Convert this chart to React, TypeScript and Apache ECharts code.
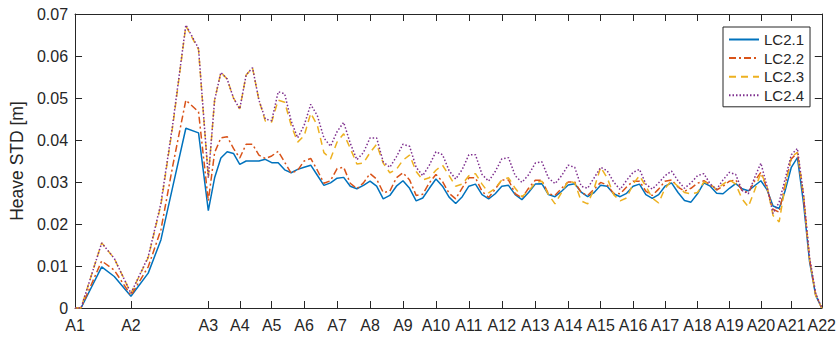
import React, { useEffect, useRef } from "react";
import * as echarts from "echarts";

// Station labels along the route and their chainage positions
const stationNames = [
  "A1", "A2", "A3", "A4", "A5", "A6", "A7", "A8", "A9", "A10", "A11",
  "A12", "A13", "A14", "A15", "A16", "A17", "A18", "A19", "A20", "A21", "A22",
];
const stationPos = [
  0, 56, 133.5, 165, 197, 229.5, 262.5, 295.5, 328.5, 361.5, 394.5,
  427.5, 461, 494, 526.5, 559, 591, 623.5, 655.5, 687, 717.5, 748,
];

// Chainage of every sample
const chainage = [
  0, 6, 26.7, 39.3, 56, 73.3, 86, 98, 111, 123.7,
  133.5, 139.8, 146.1, 152.4, 158.7,
  165, 171.4, 177.8, 184.2, 190.6,
  197, 203.5, 210, 216.5, 223,
  229.5, 236.1, 242.7, 249.3, 255.9,
  262.5, 269.1, 275.7, 282.3, 288.9,
  295.5, 302.1, 308.7, 315.3, 321.9,
  328.5, 335.1, 341.7, 348.3, 354.9,
  361.5, 368.1, 374.7, 381.3, 387.9,
  394.5, 401.1, 407.7, 414.3, 420.9,
  427.5, 434.2, 440.9, 447.6, 454.3,
  461, 467.6, 474.2, 480.8, 487.4,
  494, 500.5, 507, 513.5, 520,
  526.5, 533, 539.5, 546, 552.5,
  559, 565.4, 571.8, 578.2, 584.6,
  591, 597.5, 604, 610.5, 617,
  623.5, 629.9, 636.3, 642.7, 649.1,
  655.5, 661.8, 668.1, 674.4, 680.7,
  687, 693.1, 699.2, 705.3, 711.4,
  717.5, 723.6, 729.7, 735.8, 741.9, 748,
];

// Heave standard deviation [m] per load case
const lc21 = [
  0, 0, 0.0098, 0.0075, 0.0028, 0.0083, 0.0162, 0.029, 0.0428, 0.0417,
  0.0232, 0.031, 0.0357, 0.0372, 0.0368,
  0.0342, 0.035, 0.035, 0.035, 0.0354,
  0.0346, 0.0346, 0.0329, 0.0322, 0.033,
  0.0335, 0.034, 0.0316, 0.0292, 0.0298,
  0.0309, 0.0311, 0.029, 0.0284, 0.0292,
  0.0302, 0.029, 0.026, 0.0268, 0.029,
  0.0303, 0.0285, 0.0255, 0.0262, 0.0285,
  0.0307, 0.029, 0.0264, 0.0249, 0.0265,
  0.029, 0.0295, 0.027, 0.026, 0.0272,
  0.029, 0.0292, 0.027, 0.0258, 0.0275,
  0.0295, 0.0296, 0.027, 0.0265, 0.0278,
  0.0293, 0.0296, 0.0276, 0.0265, 0.0275,
  0.0292, 0.029, 0.0272, 0.0265, 0.0273,
  0.029, 0.0295, 0.027, 0.0261, 0.027,
  0.029, 0.0298, 0.0275, 0.0256, 0.0252,
  0.0272, 0.0298, 0.029, 0.0273, 0.0272,
  0.0285, 0.0296, 0.0284, 0.0279, 0.0291,
  0.0303, 0.0282, 0.0243, 0.0237, 0.028,
  0.0335, 0.0358, 0.025, 0.011, 0.003, 0,
];
const lc22 = [
  0, 0, 0.0112, 0.009, 0.003, 0.0098, 0.0186, 0.034, 0.0495, 0.0467,
  0.0255, 0.037, 0.0405, 0.0408, 0.038,
  0.0357, 0.039, 0.039, 0.0364, 0.0356,
  0.0362, 0.0373, 0.0347, 0.0321, 0.0328,
  0.035, 0.0356, 0.0328, 0.0297, 0.0303,
  0.0332, 0.0335, 0.0297, 0.0284, 0.0298,
  0.032, 0.0307, 0.0275, 0.0278, 0.031,
  0.0322, 0.0305, 0.0268, 0.0271, 0.0298,
  0.0318, 0.0301, 0.0273, 0.026, 0.0286,
  0.031, 0.031, 0.0278, 0.0263, 0.0283,
  0.0305, 0.0305, 0.0272, 0.0262, 0.0285,
  0.0304, 0.0304, 0.0272, 0.0268, 0.0285,
  0.03, 0.03, 0.0275, 0.0268, 0.0283,
  0.0299, 0.0293, 0.0273, 0.0272, 0.0288,
  0.0302, 0.0302, 0.0278, 0.0268, 0.0283,
  0.0302, 0.0305, 0.0288, 0.0278, 0.0285,
  0.0297, 0.0303, 0.0293, 0.0281, 0.029,
  0.0302, 0.0305, 0.028, 0.0275, 0.0302,
  0.0323, 0.0285, 0.0235, 0.0228, 0.0295,
  0.0355, 0.037, 0.0265, 0.0115, 0.0032, 0,
];
const lc23 = [
  0, 0, 0.0155, 0.0118, 0.0035, 0.012, 0.0245, 0.0435, 0.0672, 0.0615,
  0.031, 0.0495, 0.0561, 0.0545, 0.05,
  0.0474, 0.0555, 0.0572, 0.0495, 0.0445,
  0.0443, 0.0495, 0.049, 0.0435, 0.0395,
  0.041, 0.0464, 0.0435, 0.037, 0.0355,
  0.0395, 0.0415, 0.038, 0.0343, 0.0345,
  0.037, 0.039, 0.0345, 0.0322, 0.033,
  0.0352, 0.0364, 0.0325, 0.0305, 0.031,
  0.0328, 0.034, 0.0315, 0.029, 0.0295,
  0.0315, 0.032, 0.0295, 0.0274, 0.0285,
  0.0305, 0.031, 0.0285, 0.0265, 0.0278,
  0.0298, 0.0302, 0.027, 0.0248, 0.0275,
  0.0303, 0.0298, 0.0255, 0.0248, 0.0285,
  0.0335, 0.031, 0.027, 0.0255, 0.0262,
  0.0295, 0.0315, 0.029, 0.0262, 0.025,
  0.0285, 0.0303, 0.029, 0.0275, 0.0272,
  0.0275, 0.03, 0.0295, 0.0282, 0.0295,
  0.0305, 0.0295, 0.026, 0.0241, 0.028,
  0.0322, 0.029, 0.022, 0.0205, 0.029,
  0.036, 0.037, 0.027, 0.0115, 0.003, 0,
];
const lc24 = [
  0, 0, 0.0155, 0.0118, 0.0035, 0.0122, 0.0249, 0.044, 0.0674, 0.0618,
  0.031, 0.0495, 0.0561, 0.0545, 0.05,
  0.0474, 0.0555, 0.0572, 0.0495, 0.045,
  0.0446, 0.0515, 0.051, 0.0445, 0.0405,
  0.0435, 0.0485, 0.0458, 0.0405, 0.0385,
  0.042, 0.0442, 0.0392, 0.0353, 0.037,
  0.0405, 0.0405, 0.0348, 0.0335, 0.036,
  0.039, 0.0385, 0.0335, 0.0315, 0.034,
  0.0372, 0.0365, 0.0327, 0.0307, 0.033,
  0.0365, 0.0365, 0.0318, 0.0302, 0.0325,
  0.0355, 0.0358, 0.0315, 0.0299, 0.0317,
  0.0345, 0.0348, 0.031, 0.0296, 0.0315,
  0.034, 0.0335, 0.029, 0.0285, 0.031,
  0.0335, 0.0327, 0.03, 0.0282, 0.0304,
  0.0323, 0.033, 0.0295, 0.0283, 0.0298,
  0.0315, 0.0326, 0.0303, 0.0285, 0.0298,
  0.0315, 0.032, 0.0295, 0.0283, 0.0305,
  0.0323, 0.0318, 0.028, 0.0272, 0.031,
  0.0345, 0.029, 0.0225, 0.0252, 0.0308,
  0.0365, 0.038, 0.027, 0.012, 0.0035, 0,
];

const seriesDefs = [
  { name: "LC2.1", values: lc21, color: "#0072BD", dash: "solid" as any },
  { name: "LC2.2", values: lc22, color: "#D95319", dash: [7, 3, 2, 3] },
  { name: "LC2.3", values: lc23, color: "#EDB120", dash: [7, 5] },
  { name: "LC2.4", values: lc24, color: "#7E2F8E", dash: [1.5, 2] },
];

const INK = "#262626";
const FONT = "'Liberation Sans', Arial, Helvetica, sans-serif";

export default function App() {
  const ref = useRef<HTMLDivElement>(null);

  useEffect(() => {
    if (!ref.current) return;
    const chart = echarts.init(ref.current, undefined, { renderer: "svg" });

    const labelOf = (v: number) => {
      const i = stationPos.indexOf(v);
      return i >= 0 ? stationNames[i] : "";
    };

    const xCommon = {
      type: "value",
      min: 0,
      max: 748,
      splitLine: { show: false },
      axisLine: { show: true, onZero: false, lineStyle: { color: INK, width: 1 } },
    };
    const yCommon = {
      type: "value",
      min: 0,
      max: 0.07,
      interval: 0.01,
      splitLine: { show: false },
      axisLine: { show: true, onZero: false, lineStyle: { color: INK, width: 1 } },
      axisTick: { show: true, inside: true, length: 7, lineStyle: { color: INK } },
    };

    chart.setOption({
      animation: false,
      textStyle: { fontFamily: FONT, color: INK },
      grid: { left: 74, right: 17, top: 14, bottom: 29, containLabel: false },
      legend: {
        orient: "vertical",
        left: 723,
        top: 27,
        padding: [5, 6, 4, 5],
        itemGap: 3.6,
        itemWidth: 30,
        itemHeight: 14,
        borderColor: INK,
        borderWidth: 1,
        backgroundColor: "#ffffff",
        itemStyle: { opacity: 0 },
        textStyle: { fontFamily: FONT, fontSize: 15, color: INK, lineHeight: 15 },
        data: seriesDefs.map((s) => s.name),
      },
      xAxis: [
        {
          ...xCommon,
          position: "bottom",
          axisTick: {
            show: true,
            inside: true,
            length: 7,
            customValues: stationPos,
            lineStyle: { color: INK },
          },
          axisLabel: {
            show: true,
            customValues: stationPos,
            formatter: (v: number) => labelOf(v),
            fontFamily: FONT,
            fontSize: 16,
            color: INK,
            margin: 9,
          },
        },
        {
          ...xCommon,
          position: "top",
          axisTick: {
            show: true,
            inside: true,
            length: 7,
            customValues: stationPos,
            lineStyle: { color: INK },
          },
          axisLabel: { show: false },
        },
      ],
      yAxis: [
        {
          ...yCommon,
          position: "left",
          name: "Heave STD [m]",
          nameLocation: "middle",
          nameGap: 47,
          nameTextStyle: { fontFamily: FONT, fontSize: 17.5, color: INK },
          axisLabel: {
            show: true,
            fontFamily: FONT,
            fontSize: 16,
            color: INK,
            margin: 7,
            formatter: (v: number) => String(+v.toFixed(2)),
          },
        },
        {
          ...yCommon,
          position: "right",
          axisLabel: { show: false },
        },
      ],
      series: seriesDefs.map((s) => ({
        name: s.name,
        type: "line",
        xAxisIndex: 0,
        yAxisIndex: 0,
        symbol: "none",
        showSymbol: false,
        data: chainage.map((x, i) => [x, s.values[i]]),
        lineStyle: { color: s.color, width: 1.5, type: s.dash },
        itemStyle: { color: s.color },
      })),
    });

    return () => chart.dispose();
  }, []);

  return (
    <div
      ref={ref}
      style={{ position: "fixed", left: 0, top: 0, width: 839, height: 337, background: "#fff" }}
    />
  );
}
